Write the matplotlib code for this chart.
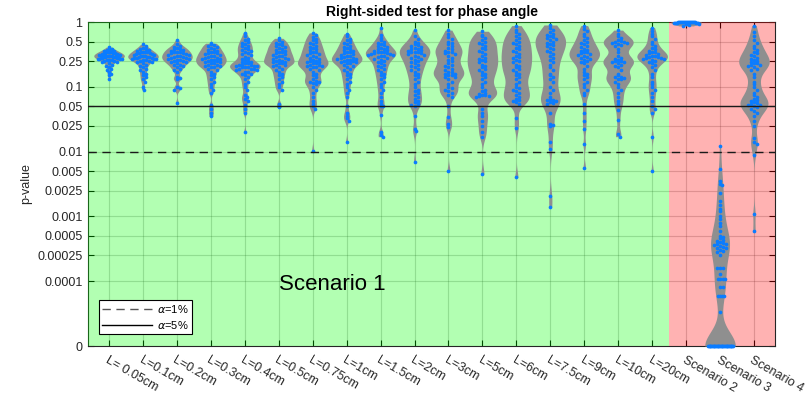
import numpy as np
import matplotlib
matplotlib.use('Agg')
import matplotlib.pyplot as plt
from matplotlib.lines import Line2D

plt.rcParams['font.family'] = ['Liberation Sans', 'DejaVu Sans']

""" ------------------- Data read from the figure ------------------- """

labels = ['L= 0.05cm', 'L=0.1cm', 'L=0.2cm', 'L=0.3cm', 'L=0.4cm', 'L=0.5cm',
          'L=0.75cm', 'L=1cm', 'L=1.5cm', 'L=2cm', 'L=3cm', 'L=5cm', 'L=6cm',
          'L=7.5cm', 'L=9cm', 'L=10cm', 'L=20cm',
          'Scenario 2', 'Scenario 3', 'Scenario 4']

p_L005 = [0.41, 0.39, 0.38, 0.37, 0.36, 0.36, 0.35, 0.35, 0.34, 0.34, 0.34, 0.33, 0.33, 0.33,
          0.32, 0.32, 0.32, 0.32, 0.31, 0.31, 0.31, 0.31, 0.30, 0.30, 0.30, 0.30, 0.30, 0.29,
          0.29, 0.29, 0.29, 0.29, 0.28, 0.28, 0.28, 0.28, 0.27, 0.27, 0.27, 0.27, 0.26, 0.26,
          0.26, 0.25, 0.25, 0.24, 0.24, 0.23, 0.22, 0.21, 0.20, 0.19, 0.18, 0.17, 0.16, 0.15,
          0.13]
p_L01 = [0.45, 0.42, 0.40, 0.39, 0.38, 0.37, 0.36, 0.35, 0.35, 0.34, 0.34, 0.33, 0.33, 0.32,
         0.32, 0.31, 0.31, 0.30, 0.30, 0.30, 0.29, 0.29, 0.29, 0.28, 0.28, 0.28, 0.27, 0.27,
         0.27, 0.26, 0.26, 0.25, 0.25, 0.24, 0.24, 0.23, 0.22, 0.21, 0.20, 0.19, 0.18, 0.17,
         0.16, 0.15, 0.14, 0.13, 0.12, 0.10, 0.09]
p_L02 = [0.52, 0.46, 0.43, 0.41, 0.40, 0.39, 0.38, 0.37, 0.36, 0.35, 0.35, 0.34, 0.33, 0.33,
         0.32, 0.31, 0.31, 0.30, 0.30, 0.29, 0.29, 0.28, 0.28, 0.27, 0.27, 0.26, 0.26, 0.25,
         0.25, 0.24, 0.24, 0.23, 0.22, 0.22, 0.21, 0.20, 0.19, 0.18, 0.17, 0.14, 0.135, 0.13,
         0.10, 0.095, 0.09, 0.057]
p_L03 = [0.47, 0.46, 0.44, 0.42, 0.41, 0.40, 0.38, 0.37, 0.36, 0.35, 0.34, 0.33, 0.33, 0.32,
         0.31, 0.30, 0.30, 0.29, 0.28, 0.28, 0.27, 0.27, 0.26, 0.26, 0.25, 0.25, 0.24, 0.24,
         0.23, 0.23, 0.22, 0.22, 0.21, 0.21, 0.20, 0.20, 0.19, 0.18, 0.17, 0.16, 0.15, 0.14,
         0.13, 0.12, 0.11, 0.10, 0.09, 0.08, 0.052, 0.046, 0.04, 0.035]
p_L04 = [0.68, 0.6, 0.55, 0.52, 0.5, 0.47, 0.45, 0.43, 0.42, 0.40, 0.39, 0.37, 0.36, 0.35,
         0.33, 0.32, 0.31, 0.29, 0.28, 0.27, 0.26, 0.25, 0.24, 0.24, 0.23, 0.23, 0.22, 0.22,
         0.22, 0.21, 0.21, 0.21, 0.20, 0.20, 0.20, 0.19, 0.19, 0.19, 0.18, 0.18, 0.17, 0.17,
         0.16, 0.16, 0.15, 0.14, 0.13, 0.12, 0.11, 0.10, 0.09, 0.075, 0.07, 0.065, 0.06,
         0.052, 0.045, 0.04, 0.02]
p_L05 = [0.56, 0.52, 0.5, 0.48, 0.46, 0.44, 0.42, 0.41, 0.40, 0.39, 0.37, 0.36, 0.35, 0.34,
         0.33, 0.32, 0.31, 0.30, 0.30, 0.29, 0.28, 0.27, 0.27, 0.26, 0.25, 0.25, 0.24, 0.24,
         0.23, 0.23, 0.22, 0.22, 0.21, 0.20, 0.19, 0.18, 0.17, 0.16, 0.15, 0.14, 0.13, 0.12,
         0.11, 0.10, 0.09, 0.055, 0.048]
p_L075 = [0.68, 0.62, 0.58, 0.55, 0.52, 0.5, 0.47, 0.45, 0.43, 0.41, 0.4, 0.38, 0.37, 0.35,
          0.34, 0.33, 0.32, 0.31, 0.3, 0.29, 0.28, 0.27, 0.26, 0.25, 0.25, 0.24, 0.24, 0.23,
          0.23, 0.22, 0.22, 0.21, 0.21, 0.2, 0.2, 0.19, 0.18, 0.17, 0.16, 0.15, 0.14, 0.13,
          0.125, 0.12, 0.12, 0.115, 0.11, 0.1, 0.09, 0.08, 0.07, 0.06, 0.055, 0.05, 0.045,
          0.0102]
p_L1 = [0.66, 0.6, 0.55, 0.52, 0.49, 0.47, 0.45, 0.43, 0.41, 0.40, 0.38, 0.37, 0.36, 0.35,
        0.34, 0.33, 0.32, 0.31, 0.3, 0.3, 0.29, 0.28, 0.28, 0.27, 0.27, 0.26, 0.26, 0.25,
        0.25, 0.24, 0.24, 0.23, 0.23, 0.22, 0.21, 0.2, 0.19, 0.18, 0.17, 0.16, 0.15, 0.14,
        0.13, 0.12, 0.11, 0.1, 0.09, 0.08, 0.07, 0.05, 0.04, 0.036, 0.033, 0.03, 0.014]
p_L15 = [0.8, 0.62, 0.56, 0.52, 0.5, 0.48, 0.46, 0.44, 0.42, 0.41, 0.40, 0.39, 0.38, 0.37,
         0.36, 0.35, 0.34, 0.34, 0.33, 0.33, 0.32, 0.32, 0.31, 0.31, 0.3, 0.3, 0.29, 0.28,
         0.27, 0.26, 0.25, 0.24, 0.23, 0.22, 0.21, 0.2, 0.19, 0.18, 0.17, 0.16, 0.15, 0.14,
         0.13, 0.12, 0.11, 0.1, 0.09, 0.08, 0.07, 0.06, 0.055, 0.05, 0.05, 0.037, 0.02,
         0.018, 0.017]
p_L2 = [0.75, 0.6, 0.55, 0.5, 0.48, 0.46, 0.44, 0.42, 0.41, 0.40, 0.39, 0.38, 0.37, 0.36,
        0.35, 0.35, 0.34, 0.33, 0.32, 0.31, 0.3, 0.29, 0.28, 0.27, 0.26, 0.25, 0.24, 0.23,
        0.22, 0.21, 0.2, 0.19, 0.18, 0.17, 0.16, 0.15, 0.14, 0.13, 0.12, 0.11, 0.1, 0.09,
        0.085, 0.08, 0.075, 0.07, 0.065, 0.06, 0.058, 0.055, 0.052, 0.05, 0.035, 0.022,
        0.021, 0.007]
p_L3 = [0.75, 0.65, 0.58, 0.54, 0.5, 0.47, 0.45, 0.42, 0.4, 0.38, 0.36, 0.35, 0.34, 0.33,
        0.32, 0.3, 0.28, 0.26, 0.25, 0.23, 0.22, 0.21, 0.2, 0.19, 0.18, 0.17, 0.17, 0.16,
        0.16, 0.15, 0.15, 0.14, 0.14, 0.13, 0.12, 0.11, 0.1, 0.095, 0.09, 0.085, 0.08,
        0.075, 0.07, 0.05, 0.034, 0.027, 0.024, 0.005]
p_L5 = [0.72, 0.64, 0.6, 0.56, 0.53, 0.5, 0.47, 0.45, 0.42, 0.4, 0.38, 0.36, 0.34, 0.32,
        0.3, 0.28, 0.27, 0.26, 0.25, 0.24, 0.22, 0.21, 0.2, 0.19, 0.18, 0.17, 0.16, 0.15,
        0.14, 0.13, 0.12, 0.11, 0.1, 0.09, 0.085, 0.08, 0.078, 0.076, 0.075, 0.073, 0.072,
        0.07, 0.045, 0.04, 0.035, 0.03, 0.025, 0.02, 0.017, 0.0045]
p_L6 = [0.88, 0.75, 0.7, 0.65, 0.6, 0.56, 0.53, 0.5, 0.47, 0.45, 0.42, 0.4, 0.38, 0.36,
        0.34, 0.32, 0.3, 0.29, 0.28, 0.26, 0.25, 0.24, 0.22, 0.21, 0.2, 0.19, 0.18, 0.17,
        0.16, 0.15, 0.14, 0.13, 0.12, 0.11, 0.1, 0.095, 0.09, 0.085, 0.08, 0.075, 0.07,
        0.065, 0.062, 0.06, 0.058, 0.055, 0.033, 0.023, 0.004]
p_L75 = [0.9, 0.8, 0.75, 0.7, 0.66, 0.63, 0.6, 0.58, 0.56, 0.54, 0.52, 0.5, 0.48, 0.46,
         0.44, 0.42, 0.4, 0.38, 0.36, 0.34, 0.32, 0.3, 0.28, 0.26, 0.24, 0.22, 0.2, 0.18,
         0.16, 0.15, 0.14, 0.13, 0.12, 0.1, 0.09, 0.08, 0.07, 0.065, 0.063, 0.062, 0.06,
         0.058, 0.056, 0.055, 0.04, 0.027, 0.026, 0.025, 0.014, 0.011, 0.0021, 0.0014]
p_L9 = [0.88, 0.78, 0.72, 0.66, 0.6, 0.56, 0.52, 0.5, 0.47, 0.45, 0.43, 0.41, 0.39, 0.37,
        0.36, 0.35, 0.34, 0.33, 0.32, 0.31, 0.3, 0.29, 0.28, 0.27, 0.26, 0.25, 0.24, 0.23,
        0.21, 0.19, 0.17, 0.16, 0.15, 0.14, 0.13, 0.12, 0.11, 0.1, 0.09, 0.08, 0.075,
        0.055, 0.04, 0.03, 0.022, 0.013, 0.0055]
p_L10 = [0.75, 0.65, 0.6, 0.56, 0.53, 0.51, 0.5, 0.49, 0.48, 0.47, 0.46, 0.44, 0.42, 0.38,
         0.34, 0.3, 0.28, 0.27, 0.26, 0.25, 0.25, 0.24, 0.24, 0.23, 0.22, 0.21, 0.2, 0.18,
         0.16, 0.15, 0.14, 0.14, 0.135, 0.13, 0.13, 0.12, 0.11, 0.1, 0.09, 0.08, 0.07, 0.06,
         0.055, 0.044, 0.031, 0.019, 0.017]
p_L20 = [0.82, 0.72, 0.65, 0.6, 0.55, 0.5, 0.46, 0.42, 0.4, 0.38, 0.36, 0.35, 0.34, 0.33,
         0.32, 0.31, 0.3, 0.3, 0.29, 0.29, 0.28, 0.28, 0.27, 0.27, 0.26, 0.25, 0.24, 0.23,
         0.22, 0.2, 0.18, 0.16, 0.14, 0.12, 0.11, 0.1, 0.09, 0.08, 0.07, 0.06, 0.05, 0.045,
         0.04, 0.017, 0.005]
p_S2 = [1.0, 1.0, 1.0, 1.0, 1.0, 1.0, 1.0, 1.0, 1.0, 1.0, 1.0, 1.0, 1.0, 1.0, 0.99, 0.99,
        0.99, 0.99, 0.98, 0.98, 0.98, 0.97, 0.97, 0.96, 0.95, 0.94, 0.93, 0.9, 0.87]
p_S3 = [0.012, 0.0053, 0.0035, 0.0032, 0.003, 0.0023, 0.0017, 0.0015, 0.0013, 0.0012,
        0.001, 0.0009, 0.0008, 0.0007, 0.0006, 0.0005, 0.00048, 0.00046, 0.00044, 0.00042,
        0.0004, 0.00039, 0.00038, 0.00037, 0.00036, 0.00035, 0.00034, 0.00033, 0.00032,
        0.0003, 0.00029, 0.00028, 0.00025, 0.00016, 0.00016, 0.00016, 0.00013, 0.00011,
        0.00011, 0.00011, 0.00011, 8e-5, 8e-5, 6e-5, 6e-5, 6e-5, 6e-5, 3.4e-5,
        0, 0, 0, 0, 0, 0, 0, 0, 0, 0, 0, 0, 0, 0, 0, 0, 0, 0, 0, 0,
        0, 0, 0, 0, 0, 0, 0, 0, 0, 0, 0, 0]
p_S4 = [0.88, 0.7, 0.6, 0.52, 0.47, 0.43, 0.4, 0.37, 0.35, 0.33, 0.31, 0.3, 0.28, 0.27,
        0.26, 0.25, 0.24, 0.23, 0.23, 0.22, 0.22, 0.21, 0.2, 0.19, 0.18, 0.16, 0.14, 0.12,
        0.11, 0.1, 0.09, 0.08, 0.075, 0.07, 0.065, 0.062, 0.06, 0.058, 0.056, 0.055, 0.053,
        0.052, 0.05, 0.048, 0.045, 0.042, 0.04, 0.035, 0.03, 0.025, 0.016, 0.014, 0.013,
        0.009, 0.0011, 0.0006]

groups = [p_L005, p_L01, p_L02, p_L03, p_L04, p_L05, p_L075, p_L1, p_L15, p_L2, p_L3,
          p_L5, p_L6, p_L75, p_L9, p_L10, p_L20, p_S2, p_S3, p_S4]

ytick_vals = [0, 0.0001, 0.00025, 0.0005, 0.001, 0.0025, 0.005, 0.01, 0.025, 0.05,
              0.1, 0.25, 0.5, 1]
ytick_txt = ['0', '0.0001', '0.00025', '0.0005', '0.001', '0.0025', '0.005', '0.01',
             '0.025', '0.05', '0.1', '0.25', '0.5', '1']

# kernel bandwidth (decades) where the automatic one is too narrow
bw_fixed = {'Scenario 3': 0.22}

""" ------------------- Functions ------------------- """

P_ZERO = 1e-5   # zero is shown one decade below 0.0001


def to_axis(p):
  p = np.asarray(p, dtype=float)
  return np.log10(np.maximum(p, P_ZERO))


def kde(t, grid, bw=None):
  if bw is None:
    n = len(t)
    sd = np.std(t)
    iqr = np.subtract(*np.percentile(t, [75, 25]))
    bw = 0.5 * 0.9 * min(sd, iqr / 1.34 if iqr > 0 else sd) * n ** (-0.2)
    bw = min(max(bw, 0.04), 0.3)
  d = np.exp(-0.5 * ((grid[:, None] - t[None, :]) / bw) ** 2).sum(axis=1)
  return d / d.max()


def swarm(t, dens_at, step=0.09, binw=0.06):
  bins = np.round(t / binw)
  offs = np.zeros_like(t)
  for b in np.unique(bins):
    idx = np.where(bins == b)[0]
    jmax = (len(idx)) // 2
    w = 0.85 * 0.45 * dens_at(b * binw)
    s = step if jmax == 0 else min(step, w / jmax)
    for k, i in enumerate(idx):
      j = (k + 1) // 2
      offs[i] = j * s * (1 if k % 2 else -1)
  return offs


""" ------------------- Plot ------------------- """

fig = plt.figure(figsize=(8.09, 4.03), dpi=100)
ax = fig.add_axes([0.1088, 0.1414, 0.8492, 0.8040])

n_groups = len(groups)
xpos = np.arange(1, n_groups + 1)
half = 0.45

for x, p, name in zip(xpos, groups, labels):
  t = to_axis(p)
  grid = np.linspace(t.min(), t.max(), 400)
  d = kde(t, grid, bw_fixed.get(name))
  ax.fill_betweenx(grid, x - half * d, x + half * d, color='#8f8f8f', lw=0, zorder=3)
  offs = swarm(t, lambda v: np.interp(v, grid, d))
  ax.scatter(x + offs, t, s=7, marker='o', color='#0a7cff', lw=0, zorder=4, clip_on=False)

# significance levels
ax.axhline(np.log10(0.05), color='#1a1a1a', lw=1.0, zorder=5)
ax.axhline(np.log10(0.01), color='#1a1a1a', lw=1.0, ls=(0, (6, 4)), zorder=5)

# scenario regions (transparent overlay like the original)
ax.axvspan(0.38, 17.5, color=(0, 1, 0), alpha=0.3, lw=0, zorder=2.6)
ax.axvspan(17.5, 20.62, color=(1, 0, 0), alpha=0.3, lw=0, zorder=2.6)

ax.text(6.0, np.log10(9e-5), 'Scenario 1', fontsize=16, ha='left', va='center', zorder=6)

ax.set_xlim(0.38, 20.62)
ax.set_ylim(np.log10(P_ZERO), 0)
ax.set_xticks(xpos)
ax.set_xticklabels(labels, rotation=-30, ha='left', va='top', rotation_mode='anchor',
                   fontsize=9, color='#262626')
ax.set_yticks(to_axis(ytick_vals))
ax.set_yticklabels(ytick_txt, fontsize=9, color='#262626')
ax.tick_params(direction='in', length=4, width=0.8, top=True, right=True, pad=4)
ax.tick_params(axis='x', pad=6)
ax.grid(True, color='k', alpha=0.18, lw=0.8)
for s in ax.spines.values():
  s.set_color('#262626')
  s.set_linewidth(0.8)

ax.set_ylabel('p-value', fontsize=9, color='#262626')
ax.set_title('Right-sided test for phase angle', fontsize=10, fontweight='bold', pad=4)

handles = [Line2D([], [], color='#555555', lw=1.0, ls=(0, (6, 4))),
           Line2D([], [], color='k', lw=1.0)]
leg = ax.legend(handles, [r'$\alpha$=1%', r'$\alpha$=5%'], loc='lower left',
                bbox_to_anchor=(0.016, 0.037), borderaxespad=0, fontsize=8,
                handlelength=4.5, fancybox=False, edgecolor='k', framealpha=1,
                borderpad=0.3, labelspacing=0.3, handletextpad=0.4)
leg.get_frame().set_linewidth(0.8)
leg.set_zorder(10)

fig.savefig('out.png', dpi=100)
